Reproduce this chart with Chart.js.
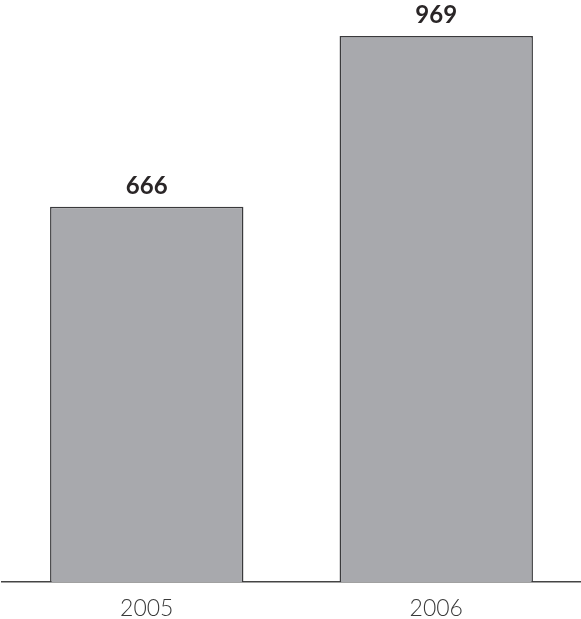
<!DOCTYPE html>
<html>
<head>
<meta charset="utf-8">
<script src="https://cdn.jsdelivr.net/npm/chart.js@4/dist/chart.umd.min.js"></script>
<style>
  html, body { margin: 0; padding: 0; background: #fff; }
  canvas { display: block; }
</style>
</head>
<body>
<canvas id="barChart" width="581" height="619"></canvas>
<script>
const years = ['2005', '2006'];
const values = [666, 969];

// draws the bold number above each bar
const valueLabels = {
    id: 'valueLabels',
    afterDatasetsDraw(chart) {
        const ctx = chart.ctx;
        const meta = chart.getDatasetMeta(0);
        ctx.save();
        ctx.font = 'bold 24px Lato';
        ctx.fillStyle = '#2a2627';
        ctx.textAlign = 'center';
        ctx.textBaseline = 'alphabetic';
        meta.data.forEach((bar, i) => {
            ctx.fillText(String(values[i]), bar.x, bar.y - 13);
        });
        ctx.restore();
    }
};

const chart = new Chart(document.getElementById('barChart'), {
    type: 'bar',
    data: {
        labels: years,
        datasets: [{
            data: values,
            backgroundColor: '#a8a9ad',
            borderColor: '#3a3a3c',
            borderWidth: 1.5,
            barPercentage: 1,
            categoryPercentage: 0.668,
        }]
    },
    options: {
        responsive: false,
        animation: false,
        layout: { padding: { left: 2, right: 0, top: 0, bottom: 0 } },
        plugins: {
            legend: { display: false },
            tooltip: { enabled: false }
        },
        scales: {
            x: {
                grid: { display: false, drawTicks: false },
                border: { display: true, color: '#444', width: 1.5 },
                ticks: {
                    color: '#3a3a3a',
                    font: { family: 'Lato', size: 23, weight: '300' },
                    padding: 13
                },
                afterFit: (scale) => { scale.height = 37; }
            },
            y: {
                display: false,
                min: 0,
                max: 1033
            }
        }
    },
    plugins: [valueLabels]
});
</script>
</body>
</html>
